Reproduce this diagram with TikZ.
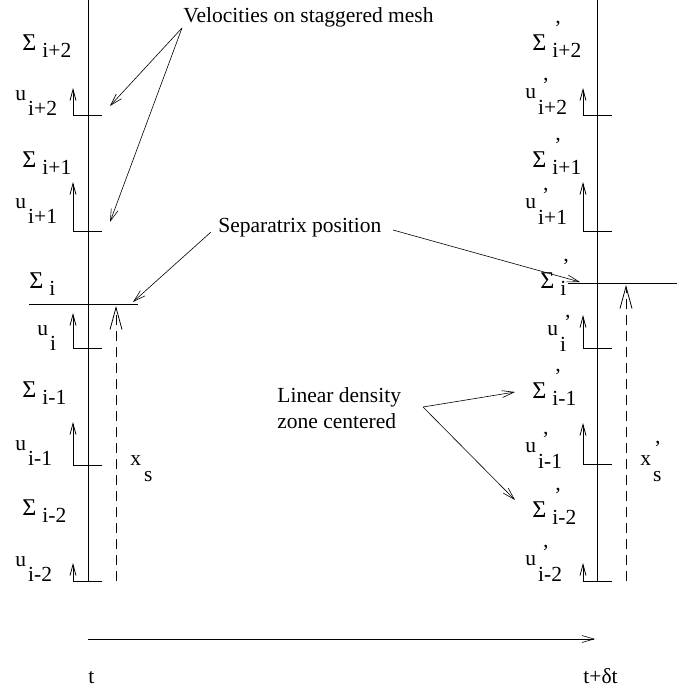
\documentclass[tikz,border=0pt]{standalone}
\usepackage{fontspec}
\usepackage{graphicx}
\setmainfont{Liberation Serif}
\usetikzlibrary{arrows.meta}
\newcommand{\sigmaglyph}{\scalebox{1.12}{Σ}}
\newcommand{\sg}[1]{\sigmaglyph\hspace{6pt}\raisebox{-7pt}{#1}}
\newcommand{\sgp}[1]{\sigmaglyph\hspace{6pt}\rlap{\hspace{2pt}\raisebox{15pt}{'}}\raisebox{-7pt}{#1}}
\newcommand{\uv}[1]{u\hspace{2pt}\raisebox{-15pt}{#1}}
\newcommand{\uvp}[1]{u\hspace{2pt}\rlap{\hspace{4pt}\raisebox{6pt}{'}}\raisebox{-16pt}{#1}}

\begin{document}
\begin{tikzpicture}[x=1pt,y=-1pt,line width=0.8pt,
    every node/.style={font=\fontsize{21.5}{26}\selectfont,inner sep=0pt,anchor=base west},
    uarr/.style={-{Straight Barb[length=11pt,width=6pt]}},
    note/.style={line width=0.6pt,-{Straight Barb[length=12pt,width=7pt]}},
    xsarr/.style={dash pattern=on 10pt off 6pt,-{Straight Barb[length=22pt,width=12pt]}}]
      \useasboundingbox (0,0) rectangle (691,691);
      % mesh at time t and t+dt
      \coordinate (meshtl) at (88,0);
      \coordinate (meshbl) at (88,581);
      \coordinate (meshtr) at (597,0);
      \coordinate (meshbr) at (597,581);
      \draw (meshtl) -- (meshbl);
      \draw (meshtr) -- (meshbr);
      % velocity stubs
      \draw[uarr] (102,115) -- (73,115) -- (73,88);
      \draw[uarr] (102,231) -- (73,231) -- (73,182);
      \draw[uarr] (102,348) -- (73,348) -- (73,313);
      \draw[uarr] (102,465) -- (73,465) -- (73,422);
      \draw[uarr] (102,581) -- (73,581) -- (73,563);
      \draw[uarr] (612,115) -- (583,115) -- (583,88);
      \draw[uarr] (612,231) -- (583,231) -- (583,182);
      \draw[uarr] (612,348) -- (583,348) -- (583,315);
      \draw[uarr] (612,464) -- (583,464) -- (583,423);
      \draw[uarr] (612,581) -- (583,581) -- (583,563);
      % separatrix
      \coordinate (sepla) at (29,304);
      \coordinate (seplb) at (138,304);
      \coordinate (sepra) at (568,283);
      \coordinate (seprb) at (677,283);
      \draw (sepla) -- (seplb);
      \draw (sepra) -- (seprb);
      \coordinate (xslfoot) at (116,581);
      \coordinate (xsltip) at (116,306);
      \coordinate (xsrfoot) at (626,581);
      \coordinate (xsrtip) at (626,285);
      \draw[xsarr] (xslfoot) -- (xsltip);
      \draw[xsarr] (xsrfoot) -- (xsrtip);
      % labels at t
      \node (sl2) at (22,50) {\sg{i+2}};
      \node (ul2) at (15,100) {\uv{i+2}};
      \node (sl1) at (22,167) {\sg{i+1}};
      \node (ul1) at (15,208) {\uv{i+1}};
      \node (sl0) at (29,288) {\sg{i}};
      \node (ul0) at (37,335) {\uv{i}};
      \node (slm1) at (22,397) {\sg{i-1}};
      \node (ulm1) at (15,450) {\uv{i-1}};
      \node (slm2) at (22,515) {\sg{i-2}};
      \node (ulm2) at (15,566) {\uv{i-2}};
      \node (xsl) at (130,465) {x\hspace{3pt}\raisebox{-16pt}{s}};
      % labels at t+dt
      \node (sr2) at (532,50) {\sgp{i+2}};
      \node (ur2) at (525,98) {\uvp{i+2}};
      \node (sr1) at (532,167) {\sgp{i+1}};
      \node (ur1) at (525,208) {\uvp{i+1}};
      \node (sr0) at (540,288) {\sgp{i}};
      \node (ur0) at (547,335) {\uvp{i}};
      \node (srm1) at (532,398) {\sgp{i-1}};
      \node (urm1) at (525,452) {\uvp{i-1}};
      \node (srm2) at (532,517) {\sgp{i-2}};
      \node (urm2) at (525,565) {\uvp{i-2}};
      \node (xsr) at (640,465) {x\hspace{2pt}\rlap{\hspace{1pt}\raisebox{10pt}{'}}\raisebox{-16pt}{s}};
      % annotations
      \node (velo) at (183,22) {Velocities on staggered mesh};
      \coordinate (velofrom) at (182,28);
      \coordinate (veloa) at (110,106);
      \coordinate (velob) at (110,222);
      \draw[note] (velofrom) -- (veloa);
      \draw[note] (velofrom) -- (velob);
      \node (sepx) at (218,232) {Separatrix position};
      \coordinate (sepxl) at (211,232);
      \coordinate (sepxr) at (393,230);
      \coordinate (sepxla) at (133,302);
      \coordinate (sepxrb) at (580,282);
      \draw[note] (sepxl) -- (sepxla);
      \draw[note] (sepxr) -- (sepxrb);
      \node[align=left,anchor=north west] (lin) at (277,387) {Linear density\\zone centered};
      \coordinate (linfrom) at (423,407);
      \coordinate (lina) at (515,392);
      \coordinate (linb) at (515,500);
      \draw[note] (linfrom) -- (lina);
      \draw[note] (linfrom) -- (linb);
      % time axis
      \coordinate (tstart) at (88,639);
      \coordinate (tend) at (595,639);
      \draw[note] (tstart) -- (tend);
      \node (tl) at (88,683) {t};
      \node (tr) at (583,683) {t+δt};
    \end{tikzpicture}
\end{document}
